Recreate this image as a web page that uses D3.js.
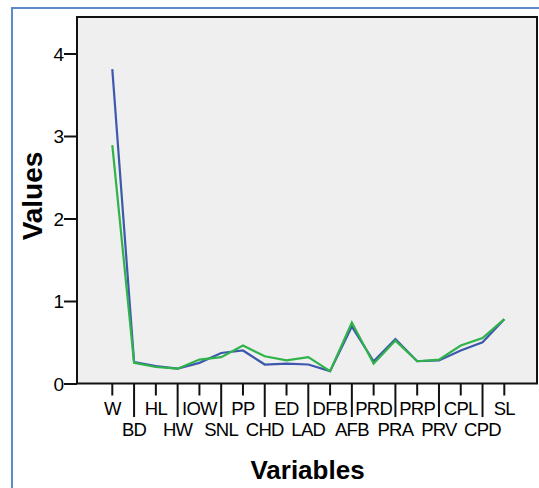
<!DOCTYPE html>
<html>
<head>
<meta charset="utf-8">
<script src="https://cdn.jsdelivr.net/npm/d3@7"></script>
<style>
  body { margin: 0; background: #fff; }
  svg { display: block; font-family: "Liberation Sans", Arial, sans-serif; }
</style>
</head>
<body>
<div id="chart"></div>
<script>
// data
var variables = ["W","BD","HL","HW","IOW","SNL","PP","CHD","ED","LAD","DFB","AFB","PRD","PRA","PRP","PRV","CPL","CPD","SL"]
var blueValues  = [3.81,0.26,0.21,0.18,0.25,0.37,0.40,0.23,0.24,0.23,0.15,0.69,0.27,0.54,0.27,0.28,0.40,0.50,0.78]
var greenValues = [2.89,0.25,0.20,0.18,0.29,0.32,0.46,0.33,0.28,0.32,0.15,0.74,0.24,0.52,0.27,0.29,0.46,0.55,0.78]
var yTicks = [0, 1, 2, 3, 4]

// layout
var total_width = 539,
    total_height = 488,
    plot = {left: 77, top: 17, right: 537, bottom: 383.5}

var svg = d3.select("#chart").append("svg")
    .attr("width", total_width)
    .attr("height", total_height)

// outer frame (cut off at right / bottom)
svg.append("rect")
    .attr("x", 12).attr("y", 8)
    .attr("width", 600).attr("height", 600)
    .attr("fill", "none")
    .attr("stroke", "#5b8bca")
    .attr("stroke-width", 2)

var x = d3.scalePoint().domain(variables).range([112.3, 504.3])
var y = d3.scaleLinear().domain([0, 4]).range([plot.bottom, plot.bottom - 4 * 82.5])

// plot background
svg.append("rect")
    .attr("x", plot.left).attr("y", plot.top)
    .attr("width", plot.right - plot.left)
    .attr("height", plot.bottom - plot.top)
    .attr("fill", "#efefef")
    .attr("stroke", "#111")
    .attr("stroke-width", 2)

// y axis
var yAxis = svg.append("g")
    .attr("transform", "translate(" + plot.left + ",0)")
    .call(d3.axisLeft(y).tickValues(yTicks).tickFormat(d3.format("d")).tickSize(13).tickPadding(0))
yAxis.select(".domain").remove()
yAxis.selectAll("line").attr("stroke", "#111").attr("stroke-width", 2)
yAxis.selectAll("text")
    .attr("fill", "#000")
    .style("font-size", "19px")
    .attr("dy", "0.36em")

// x axis ticks, every other label dropped to a second row
var xg = svg.append("g")
xg.selectAll("line")
    .data(variables)
    .enter().append("line")
    .attr("x1", d => x(d)).attr("x2", d => x(d))
    .attr("y1", plot.bottom)
    .attr("y2", (d, i) => i % 2 == 0 ? 395.5 : 417)
    .attr("stroke", "#111")
    .attr("stroke-width", 2)
xg.selectAll("text")
    .data(variables)
    .enter().append("text")
    .text(d => d)
    .attr("x", d => x(d))
    .attr("y", (d, i) => i % 2 == 0 ? 415 : 436)
    .attr("text-anchor", "middle")
    .style("font-size", "18.5px")
    .style("letter-spacing", "-0.7px")

// lines
var line = d3.line()
    .x((d, i) => x(variables[i]))
    .y(d => y(d))

svg.append("path")
    .datum(blueValues)
    .attr("d", line)
    .attr("fill", "none")
    .attr("stroke", "#3d58ad")
    .attr("stroke-width", 2.2)

svg.append("path")
    .datum(greenValues)
    .attr("d", line)
    .attr("fill", "none")
    .attr("stroke", "#2fb34a")
    .attr("stroke-width", 2.2)

// axis titles
svg.append("text")
    .text("Variables")
    .attr("x", 307.5)
    .attr("y", 479)
    .attr("text-anchor", "middle")
    .style("font-size", "26px")
    .style("font-weight", "bold")

svg.append("text")
    .text("Values")
    .attr("transform", "translate(42,196) rotate(-90)")
    .attr("text-anchor", "middle")
    .style("font-size", "28px")
    .style("font-weight", "bold")
</script>
</body>
</html>
